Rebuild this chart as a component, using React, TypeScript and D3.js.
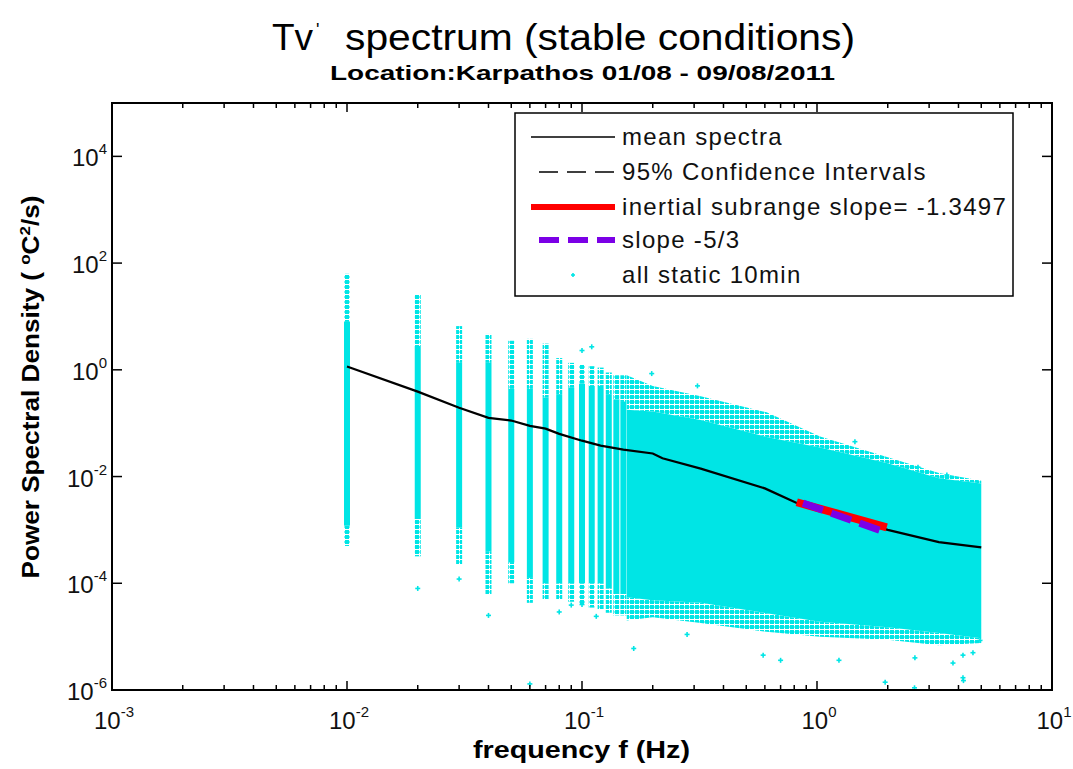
import React from 'react'
import * as d3 from 'd3'

const W = 1073, H = 769
const plot = { left: 112, right: 1052, top: 103, bottom: 690 }
const FONT = 'Liberation Sans, Arial, Helvetica, sans-serif'
const CYAN = '#00e5e5'

// low frequency bins (Hz): each one is a separate column of 10 min spectra
const colFreqs = [0.01, 0.02, 0.03, 0.04, 0.05, 0.06, 0.07, 0.08, 0.09, 0.1, 0.11, 0.12, 0.13, 0.14, 0.15]
const colTop = [63, 26, 6.6, 4.7, 3.5, 3.8, 3.1, 1.66, 1.35, 1.26, 1.17, 1.1, 0.89, 0.79, 0.79]
const colDenseTop = [7.9, 2.8, 1.35, 1.35, 0.44, 0.44, 0.3, 0.35, 0.46, 0.55, 0.5, 0.5, 0.35, 0.28, 0.25]
const colDenseBot = [1.2e-3, 1.6e-3, 1.1e-3, 4e-4, 2.5e-4, 1.26e-4, 1e-4, 1e-4, 1e-4, 1e-4, 1e-4, 1e-4, 8e-5, 6.3e-5, 6.3e-5]
const colBot = [5e-4, 3.2e-4, 2.2e-4, 6.3e-5, 1e-4, 4.3e-5, 5e-5, 5e-5, 4.5e-5, 4e-5, 3.5e-5, 3.2e-5, 2.8e-5, 2.5e-5, 2.5e-5]

// higher frequencies: bins merge into one cloud
const contFreqs = [0.155, 0.2, 0.32, 0.61, 1.03, 2.0, 3.3, 5.0]
const contTop = [0.79, 0.5, 0.32, 0.16, 0.056, 0.023, 0.0117, 0.0083]
const contDenseTop = [0.178, 0.166, 0.115, 0.055, 0.035, 0.0178, 0.0093, 0.0074]
const contDenseBot = [5.5e-5, 4.8e-5, 4.3e-5, 2.75e-5, 1.9e-5, 1.5e-5, 1.17e-5, 9.3e-6]
const contBot = [2.0e-5, 2.3e-5, 1.8e-5, 1.23e-5, 1e-5, 8.7e-6, 6.9e-6, 7.6e-6]

// isolated points
const outFreqs = [0.1, 0.11, 0.198, 0.31, 1.45, 2.69, 3.57, 0.02, 0.03, 0.04, 0.08, 0.09, 0.1, 0.115, 0.06, 0.166, 0.28, 0.59, 0.7, 1.24, 2.61, 3.79, 4.18, 4.61, 4.18, 4.94, 1.95, 2.6, 4.2]
const outPsd = [2.3, 2.7, 0.85, 0.5, 0.045, 0.015, 0.0107, 8e-5, 1.2e-4, 2.5e-5, 2.9e-5, 3.9e-5, 4e-5, 2.4e-5, 1.3e-6, 6e-6, 1.1e-5, 4.5e-6, 3.6e-6, 3.6e-6, 4e-6, 3.2e-6, 4.5e-6, 5e-6, 1.7e-6, 8.5e-6, 1.4e-6, 1.1e-6, 1.5e-6]

// mean spectrum
const meanFreqs = [0.01, 0.02, 0.03, 0.04, 0.05, 0.06, 0.07, 0.08, 0.1, 0.12, 0.15, 0.2, 0.22, 0.32, 0.6, 0.82, 1.2, 2.0, 3.3, 5.0]
const meanPsd = [1.15, 0.39, 0.195, 0.126, 0.112, 0.089, 0.079, 0.063, 0.047, 0.038, 0.032, 0.027, 0.022, 0.0141, 0.006, 0.0032, 0.0019, 0.001, 0.00059, 0.00047]

// fitted slopes (end points)
const fitFreqs = [0.82, 1.98]
const fitPsd = [3.3e-3, 1.12e-3]
const refFreqs = [0.872, 1.947]
const refPsd = [3.17e-3, 9.1e-4]

const xTicks = [1e-3, 1e-2, 1e-1, 1, 10]
const xTickExp = ['-3', '-2', '-1', '0', '1']
const yTicks = [1e-6, 1e-4, 1e-2, 1, 1e2, 1e4]
const yTickExp = ['-6', '-4', '-2', '0', '2', '4']

const legendItems = ['mean spectra', '95% Confidence Intervals', 'inertial subrange slope= -1.3497', 'slope -5/3', 'all static 10min']

function Plus({ x, y, s = 2.5 }: { x: number, y: number, s?: number }) {
  return (
    <g stroke={CYAN} strokeWidth={1.6}>
      <line x1={x - s} x2={x + s} y1={y} y2={y} />
      <line x1={x} x2={x} y1={y - s} y2={y + s} />
    </g>
  )
}

export default function App() {
  const x = d3.scaleLog().domain([1e-3, 10]).range([plot.left, plot.right])
  const y = d3.scaleLog().domain([1e-6, 1e5]).range([plot.bottom, plot.top])

  const idx = contFreqs.map((_, i) => i)
  const band = (a: number[], b: number[]) =>
    d3.area<number>().x(i => x(contFreqs[i])).y0(i => y(a[i])).y1(i => y(b[i]))(idx) || ''

  const meanLine = d3.line<number>().x((_, i) => x(meanFreqs[i])).y(d => y(d))(meanPsd) || ''
  const minor = x.ticks()

  const lx1 = 531, lx2 = 615, ltx = 622
  const rows = [137, 172, 207, 240, 275]

  return (
    <svg width={W} height={H} style={{ position: 'absolute', left: 0, top: 0, background: '#fff' }} fontFamily={FONT}>
      <defs>
        <pattern id="spk" width={5} height={5} patternUnits="userSpaceOnUse">
          <rect x={0} y={0} width={4} height={4} fill={CYAN} />
          <rect x={4} y={1.5} width={1} height={1} fill={CYAN} />
        </pattern>
        <clipPath id="pc"><rect x={plot.left} y={plot.top} width={plot.right - plot.left} height={plot.bottom - plot.top} /></clipPath>
      </defs>
      <rect x={0} y={0} width={W} height={H} fill="#fff" />

      <g clipPath="url(#pc)">
        {/* columns */}
        {colFreqs.map((f, i) => (
          <g key={i}>
            <rect x={x(f) - 3} width={6} y={y(colTop[i])} height={y(colDenseTop[i]) - y(colTop[i])} fill="url(#spk)" />
            <rect x={x(f) - 3} width={6} y={y(colDenseTop[i])} height={y(colDenseBot[i]) - y(colDenseTop[i])} fill={CYAN} />
            <rect x={x(f) - 3} width={6} y={y(colDenseBot[i])} height={y(colBot[i]) - y(colDenseBot[i])} fill="url(#spk)" />
          </g>
        ))}
        {/* cloud */}
        <path d={band(contDenseTop, contTop)} fill="url(#spk)" />
        <path d={band(contBot, contDenseBot)} fill="url(#spk)" />
        <path d={band(contDenseBot, contDenseTop)} fill={CYAN} />
        {outFreqs.map((f, i) => <Plus key={i} x={x(f)} y={y(outPsd[i])} />)}

        <path d={meanLine} fill="none" stroke="#000" strokeWidth={2.2} />
        <line x1={x(fitFreqs[0])} y1={y(fitPsd[0])} x2={x(fitFreqs[1])} y2={y(fitPsd[1])} stroke="#ff0000" strokeWidth={8} />
        <line x1={x(refFreqs[0])} y1={y(refPsd[0])} x2={x(refFreqs[1])} y2={y(refPsd[1])} stroke="#7b00e6" strokeWidth={7} strokeDasharray="21 9" />
      </g>

      {/* axes box */}
      <rect x={plot.left} y={plot.top} width={plot.right - plot.left} height={plot.bottom - plot.top} fill="none" stroke="#000" strokeWidth={2} />
      {minor.map((t, i) => {
        const major = xTicks.includes(t)
        const len = major ? 9 : 5
        return (
          <g key={i} stroke="#000" strokeWidth={1.5}>
            <line x1={x(t)} x2={x(t)} y1={plot.bottom} y2={plot.bottom - len} />
            <line x1={x(t)} x2={x(t)} y1={plot.top} y2={plot.top + len} />
          </g>
        )
      })}
      {yTicks.map((t, i) => (
        <g key={i} stroke="#000" strokeWidth={1.5}>
          <line x1={plot.left} x2={plot.left + 10} y1={y(t)} y2={y(t)} />
          <line x1={plot.right} x2={plot.right - 10} y1={y(t)} y2={y(t)} />
        </g>
      ))}
      {xTicks.map((t, i) => (
        <text key={i} x={x(t) + 2} y={729} textAnchor="middle" fontSize={24} fill="#111">
          10<tspan dy={-12} fontSize={15}>{xTickExp[i]}</tspan>
        </text>
      ))}
      {yTicks.map((t, i) => (
        <text key={i} x={107} y={y(t) + 10} textAnchor="end" fontSize={24} fill="#111">
          10<tspan dy={-12} fontSize={15}>{yTickExp[i]}</tspan>
        </text>
      ))}

      {/* titles */}
      <text x={272} y={50} fontSize={37} fill="#000">Tv</text>
      <text x={316} y={36} fontSize={18} fill="#000">'</text>
      <text x={345} y={50} fontSize={37} fill="#000" textLength={510} lengthAdjust="spacingAndGlyphs">spectrum (stable conditions)</text>
      <text x={330} y={80} fontSize={21} fontWeight="bold" fill="#000" textLength={505} lengthAdjust="spacingAndGlyphs">Location:Karpathos 01/08  - 09/08/2011</text>
      <text x={473} y={758} fontSize={23} fontWeight="bold" fill="#000" textLength={217} lengthAdjust="spacingAndGlyphs">frequency f (Hz)</text>
      <text transform="translate(39,387) rotate(-90)" textAnchor="middle" fontSize={23} fontWeight="bold" fill="#000" textLength={383} lengthAdjust="spacingAndGlyphs">
        Power Spectral Density ( <tspan dy={-9} fontSize={15}>o</tspan><tspan dy={9}>C</tspan><tspan dy={-9} fontSize={15}>2</tspan><tspan dy={9}>/s)</tspan>
      </text>

      {/* legend */}
      <rect x={515} y={113} width={498} height={183} fill="#fff" stroke="#000" strokeWidth={1.5} />
      <line x1={lx1} x2={lx2} y1={rows[0]} y2={rows[0]} stroke="#000" strokeWidth={1.5} />
      <line x1={539} x2={lx2} y1={rows[1]} y2={rows[1]} stroke="#000" strokeWidth={1.5} strokeDasharray="19 9" />
      <line x1={lx1} x2={lx2} y1={rows[2]} y2={rows[2]} stroke="#ff0000" strokeWidth={6} />
      <line x1={539} x2={lx2} y1={rows[3]} y2={rows[3]} stroke="#7b00e6" strokeWidth={6} strokeDasharray="20 9" />
      <Plus x={573} y={rows[4]} s={2} />
      {legendItems.map((s, i) => (
        <text key={i} x={ltx} y={rows[i] + 8} fontSize={24} letterSpacing={1.3} fill="#111">{s}</text>
      ))}
    </svg>
  )
}
